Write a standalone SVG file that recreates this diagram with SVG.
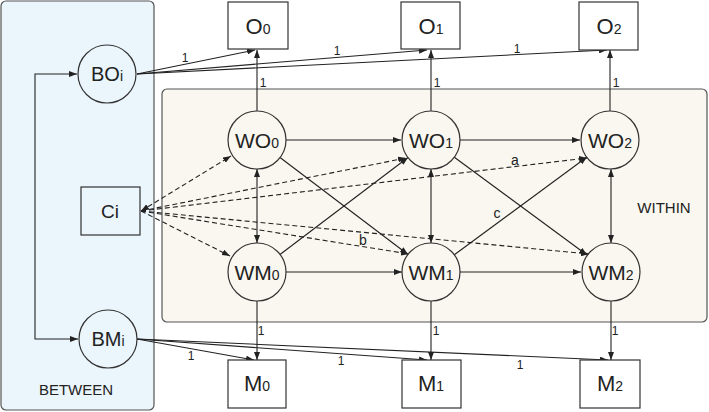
<svg xmlns="http://www.w3.org/2000/svg" width="709" height="412" viewBox="0 0 709 412">
<style>
text{font-family:"Liberation Sans",Arial,sans-serif;fill:#222}
.big{font-size:21px;text-anchor:middle}
.bx{font-size:22px;text-anchor:middle}
.sub{font-size:14px}
.lbl{font-size:12px;text-anchor:middle}
.pl{font-size:15px;text-anchor:middle}
.node{fill:none;stroke:#333;stroke-width:1.2}
.box{fill:#fff;stroke:#333;stroke-width:1.2}
.e{fill:none;stroke:#222;stroke-width:1.1;marker-end:url(#ah)}
.d{stroke-dasharray:5,3}
.bi{marker-start:url(#ah)}
</style>
<defs>
<marker id="ah" markerUnits="userSpaceOnUse" markerWidth="8" markerHeight="6" refX="8" refY="3" orient="auto-start-reverse">
<path d="M0,0 L8,3 L0,6 z" fill="#222"/>
</marker>
</defs>
<g id="between-panel">
<rect x="1" y="1" width="153" height="409" rx="5" fill="#eaf5fc" stroke="#555" stroke-width="1.2"/>
<text class="pl" x="76" y="395">BETWEEN</text>
</g>
<g id="within-panel">
<rect x="162" y="89" width="545" height="233" rx="5" fill="#f9f7ef" stroke="#555" stroke-width="1.2"/>
<text class="pl" x="664" y="213">WITHIN</text>
</g>
<g id="connectors">
<path class="e bi" d="M77,74 H35 V339 H78"/>
<path class="e" d="M137,74 L255,50"/>
<path class="e" d="M137,74 L427,50"/>
<path class="e" d="M137,74 L607,50"/>
<path class="e" d="M137,339 L254,360"/>
<path class="e" d="M137,339 L427,360"/>
<path class="e" d="M137,339 L608,360"/>
<path class="e" d="M257,111 V50"/>
<path class="e" d="M431,111 V50"/>
<path class="e" d="M610,111 V50"/>
<path class="e" d="M257,301 V360"/>
<path class="e" d="M431,301 V360"/>
<path class="e" d="M611,301 V360"/>
<path class="e" d="M286,140 H401"/>
<path class="e" d="M460,140 H580"/>
<path class="e" d="M286,272 H402"/>
<path class="e" d="M460,272 H581"/>
<path class="e bi" d="M257,169 V243"/>
<path class="e bi" d="M431,169 V243"/>
<path class="e bi" d="M611,169 V243"/>
<path class="e" d="M280,157.5 L408,254.5"/>
<path class="e" d="M280,254.5 L408,157.5"/>
<path class="e" d="M454,157 L587,255"/>
<path class="e" d="M454,255 L587,157"/>
<path class="e d bi" d="M141,211 L231,156"/>
<path class="e d" d="M141,211 L230,256"/>
<path class="e d" d="M141,211 L406,158"/>
<path class="e d" d="M141,211 L409,254"/>
<path class="e d" d="M141,211 L587,158"/>
<path class="e d" d="M141,211 L589,254"/>
<text class="lbl" x="185" y="62">1</text>
<text class="lbl" x="337" y="55">1</text>
<text class="lbl" x="517" y="53">1</text>
<text class="lbl" x="263" y="87">1</text>
<text class="lbl" x="437" y="87">1</text>
<text class="lbl" x="616" y="87">1</text>
<text class="lbl" x="261" y="335">1</text>
<text class="lbl" x="436" y="335">1</text>
<text class="lbl" x="615" y="335">1</text>
<text class="lbl" x="191" y="360">1</text>
<text class="lbl" x="341" y="365">1</text>
<text class="lbl" x="520" y="369">1</text>
<text class="lbl" x="515" y="165" style="font-size:14px">a</text>
<text class="lbl" x="363" y="245" style="font-size:14px">b</text>
<text class="lbl" x="497" y="218" style="font-size:14px">c</text>
</g>
<g id="BOi"><circle class="node" cx="107" cy="74" r="29"/><text class="big" x="107" y="81" style="font-size:20px">BO<tspan class="sub">i</tspan></text></g>
<g id="BMi"><circle class="node" cx="108" cy="339" r="29"/><text class="big" x="108" y="346" style="font-size:20px">BM<tspan class="sub">i</tspan></text></g>
<g id="Ci"><rect x="81" y="187" width="59" height="48" fill="#eaf5fc" stroke="#333" stroke-width="1.2"/><text class="big" x="110" y="218" style="font-size:19px">Ci</text></g>
<g id="O0"><rect class="box" x="228" y="2" width="60" height="47"/><text class="bx" x="258" y="34">O<tspan class="sub">0</tspan></text></g>
<g id="O1"><rect class="box" x="401" y="2" width="59" height="47"/><text class="bx" x="431" y="34">O<tspan class="sub">1</tspan></text></g>
<g id="O2"><rect class="box" x="579" y="2" width="59" height="48"/><text class="bx" x="609" y="34">O<tspan class="sub">2</tspan></text></g>
<g id="WO0"><circle class="node" cx="257" cy="140" r="29"/><text class="big" x="257" y="148">WO<tspan class="sub">0</tspan></text></g>
<g id="WO1"><circle class="node" cx="431" cy="140" r="29"/><text class="big" x="431" y="148">WO<tspan class="sub">1</tspan></text></g>
<g id="WO2"><circle class="node" cx="610" cy="140" r="29"/><text class="big" x="610" y="148">WO<tspan class="sub">2</tspan></text></g>
<g id="WM0"><circle class="node" cx="257" cy="272" r="29"/><text class="big" x="257" y="280">WM<tspan class="sub">0</tspan></text></g>
<g id="WM1"><circle class="node" cx="431" cy="272" r="29"/><text class="big" x="431" y="280">WM<tspan class="sub">1</tspan></text></g>
<g id="WM2"><circle class="node" cx="611" cy="272" r="29"/><text class="big" x="611" y="280">WM<tspan class="sub">2</tspan></text></g>
<g id="M0"><rect class="box" x="228" y="360" width="58" height="48"/><text class="bx" x="257" y="391">M<tspan class="sub">0</tspan></text></g>
<g id="M1"><rect class="box" x="402" y="360" width="59" height="48"/><text class="bx" x="431" y="391">M<tspan class="sub">1</tspan></text></g>
<g id="M2"><rect class="box" x="580" y="360" width="60" height="48"/><text class="bx" x="610" y="391">M<tspan class="sub">2</tspan></text></g>
</svg>
